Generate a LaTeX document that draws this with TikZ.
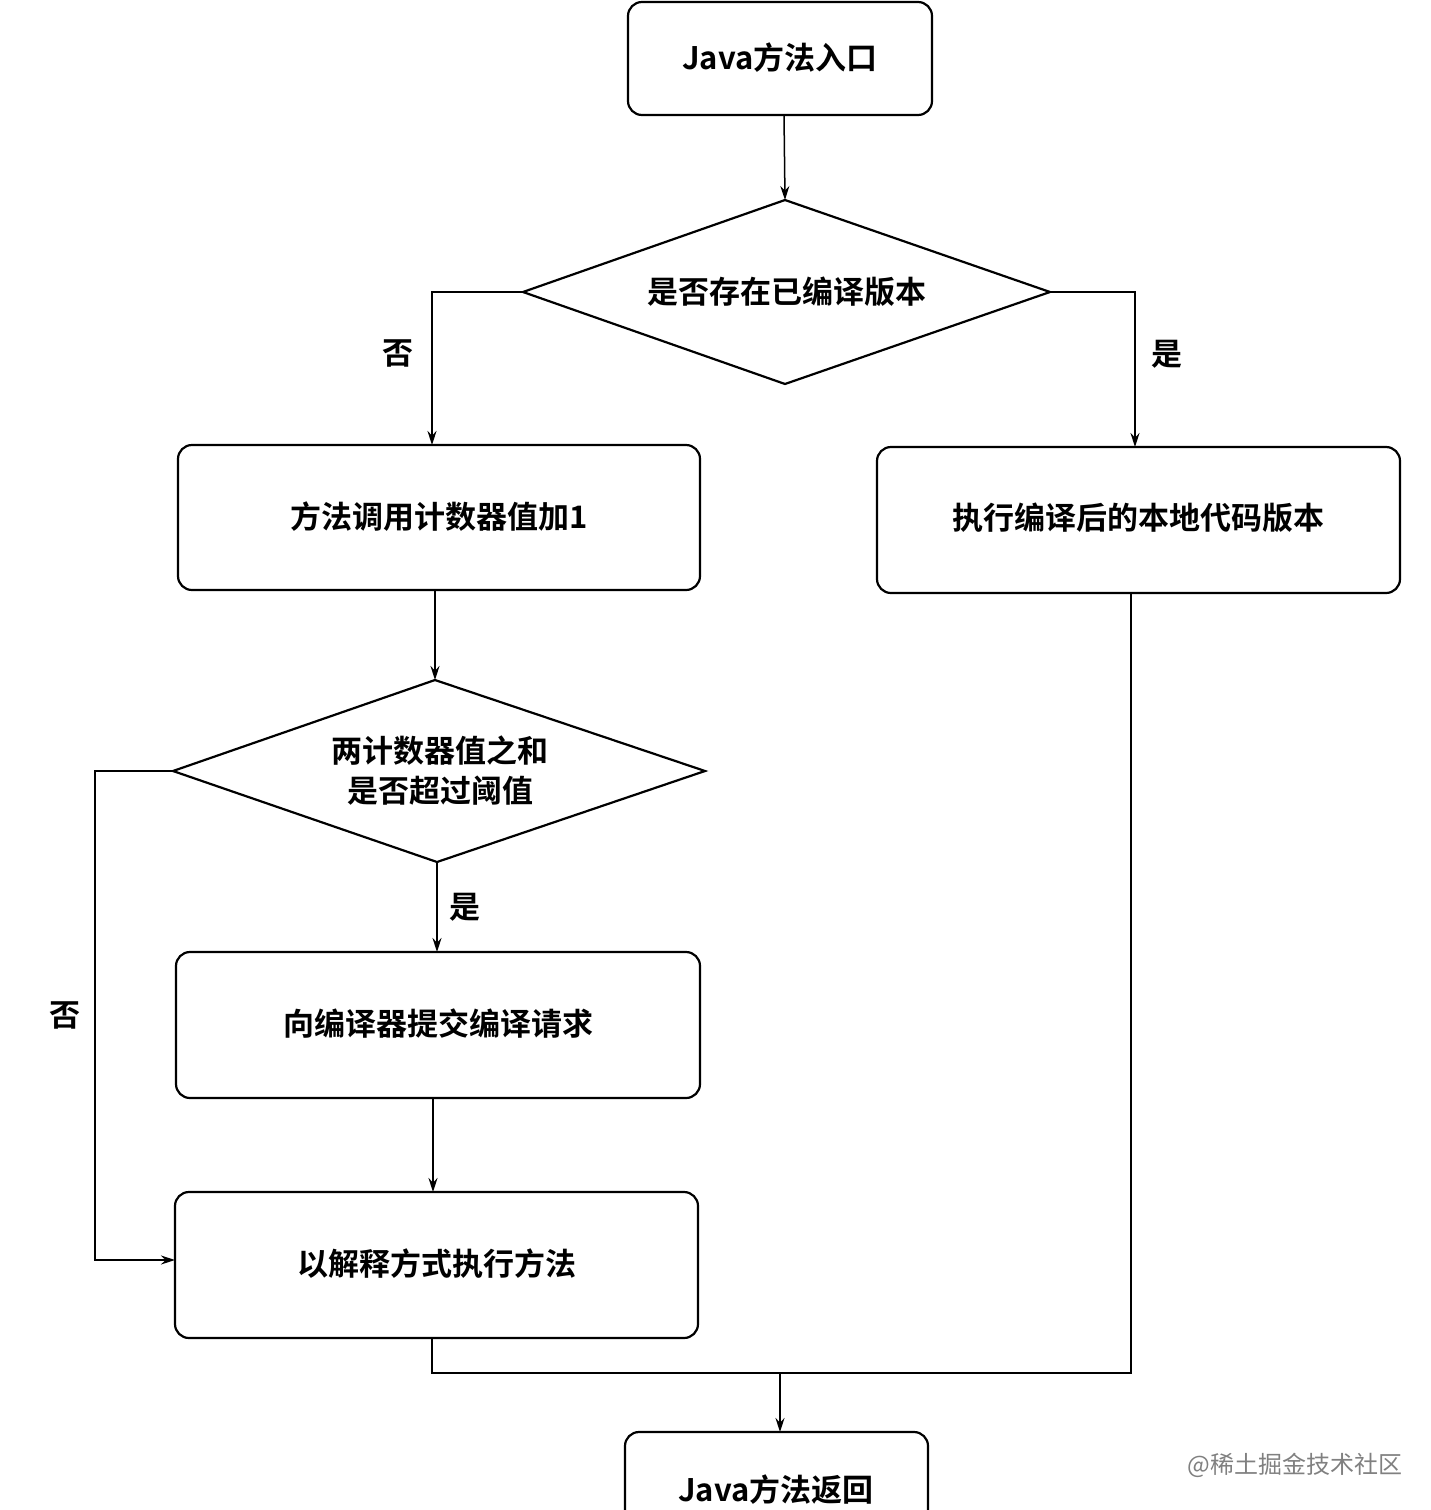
\documentclass[tikz,border=0pt]{standalone}
\usepackage{fontspec}
\setmainfont{Liberation Serif}
\newfontfamily\cjk{Noto Sans CJK SC}[BoldFont=* Bold]
\usetikzlibrary{shapes.geometric,arrows.meta}
\begin{document}
\begin{tikzpicture}[x=1pt,y=-1pt,
  box/.style={draw,line width=2.2pt,rounded corners=14pt,inner sep=0},
  dl/.style={draw,line width=2.2pt,line join=miter},
  txt/.style={font=\cjk\bfseries\fontsize{31}{40}\selectfont,align=center},
  ln/.style={line width=1.5pt},
  ar/.style={ln,-{Stealth[length=14pt,width=9pt]}}]
\useasboundingbox (0,0) rectangle (1431,1510);
\clip (0,0) rectangle (1431,1510);
\draw[box] (628,2) rectangle (932,115); \node[txt] (t1) at (780,58) {Java方法入口};
\coordinate (b1) at (784,115);
\coordinate (d1n) at (785,200); \coordinate (d1w) at (523,292); \coordinate (d1e) at (1050,292); \coordinate (d1s) at (785,384);
\draw[dl] (d1n) -- (d1e) -- (d1s) -- (d1w) -- cycle;
\node[txt] (d1) at (787,292) {是否存在已编译版本};
\draw[box] (178,445) rectangle (700,590); \node[txt] (t2) at (439,517) {方法调用计数器值加1};
\draw[box] (877,447) rectangle (1400,593); \node[txt] (t3) at (1138,518) {执行编译后的本地代码版本};
\coordinate (d2n) at (435,680); \coordinate (d2w) at (173,771); \coordinate (d2e) at (705,771); \coordinate (d2s) at (437,862);
\draw[dl] (d2n) -- (d2e) -- (d2s) -- (d2w) -- cycle;
\node[txt] (d2) at (440,771) {两计数器值之和\\是否超过阈值};
\draw[box] (176,952) rectangle (700,1098); \node[txt] (t4) at (438,1024) {向编译器提交编译请求};
\draw[box] (175,1192) rectangle (698,1338); \node[txt] (t5) at (437,1264) {以解释方式执行方法};
\draw[box] (625,1432) rectangle (928,1540); \node[txt] (t6) at (776,1490) {Java方法返回};
\draw[ar] (b1) -- (d1n);
\draw[ar] (d1w) -| (432,445) node[pos=0.7,left=14pt,txt]{否};
\draw[ar] (d1e) -| (1135,447) node[pos=0.7,right=12pt,txt]{是};
\draw[ar] (435,590) -- (d2n);
\draw[ar] (d2s) -- (437,952) node[midway,right=8pt,txt]{是};
\draw[ar] (433,1098) -- (433,1192);
\draw[ar] (d2w) -- (95,771) -- (95,1260) node[midway,left=10pt,txt]{否} -- (175,1260);
\draw[ln] (432,1338) -- (432,1373) -- (1131,1373) -- (1131,593);
\draw[ar] (780,1373) -- (780,1432);
\node[font=\cjk\fontsize{24}{28}\selectfont,text=gray] (wm) at (1295,1465) {@稀土掘金技术社区};
\end{tikzpicture}
\end{document}
